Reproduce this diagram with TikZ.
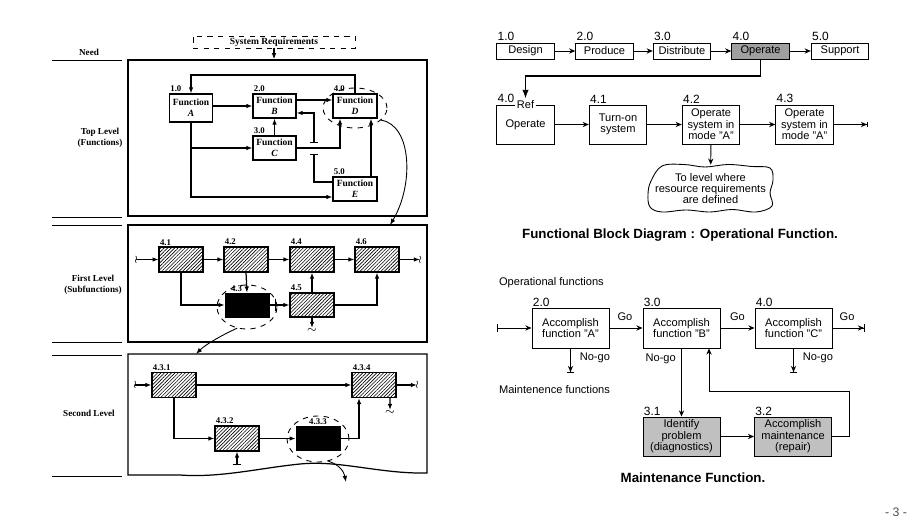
\documentclass[tikz,border=0pt]{standalone}
\usepackage{fontspec}
\setmainfont{Liberation Sans}
\newfontfamily\bookfont{Liberation Serif}
\usetikzlibrary{arrows.meta,shapes.geometric,patterns.meta}

\begin{document}
\begin{tikzpicture}[x=0.02cm, y=-0.02cm,
    sidelbl/.style={font=\bookfont\bfseries\fontsize{5.2}{6}\selectfont, align=center},
    funbox/.style={draw, fill=white, line width=0.6pt, inner sep=0pt, minimum width=0.86cm, minimum height=0.48cm, align=center, font=\bookfont\bfseries\fontsize{5.4}{6.2}\selectfont},
    hatchbox/.style={draw, line width=0.6pt, inner sep=0pt, minimum width=0.88cm, minimum height=0.5cm, pattern={Lines[angle=45,distance=1.4pt,line width=0.35pt]}},
    blackbox/.style={draw, fill=black, inner sep=0pt, minimum width=0.88cm, minimum height=0.48cm},
    lnum/.style={font=\bookfont\bfseries\fontsize{5}{5}\selectfont, inner sep=0.6pt, anchor=south west},
    larr/.style={-{Latex[length=3.5pt,width=2.6pt]}, line width=0.7pt},
    ring/.style={ellipse, draw, dashed, line width=0.5pt, inner sep=0pt},
    tilde/.style={inner sep=0pt, font=\fontsize{6}{6}\selectfont},
    rbox/.style={draw, fill=white, line width=0.55pt, inner sep=0pt, minimum width=1.15cm, minimum height=0.32cm, align=center, font=\fontsize{6.3}{6.5}\selectfont},
    rnum/.style={font=\fontsize{6.8}{7}\selectfont, inner sep=0.6pt, anchor=south west},
    rarr/.style={-{Stealth[length=3.5pt,width=3pt]}, line width=0.55pt},
    rtxt/.style={font=\fontsize{6.3}{6.5}\selectfont, inner sep=1pt},
    captxt/.style={font=\bfseries\fontsize{7.6}{8}\selectfont}
  ]
  \useasboundingbox (0,0) rectangle (915,520);
  \xdefinecolor{opgray}{RGB}{160,160,160}
  \xdefinecolor{mgray}{RGB}{192,192,192}

  % Draw the level rules and names on the left
  \foreach \y in {60,217,225,342,355,476}
    \draw[line width=0.5pt] (52,\y) -- (122,\y);
  \node[sidelbl] (need) at (89,52) {Need};
  \node[sidelbl] (topl) at (100,138) {Top Level\\(Functions)};
  \node[sidelbl] (firstl) at (93,285) {First Level\\(Subfunctions)};
  \node[sidelbl] (secondl) at (89,413) {Second Level};

  % System requirements and top level frame
  \node[draw, dashed, line width=0.5pt, minimum width=3.24cm, minimum height=0.24cm, inner sep=0pt, font=\bookfont\bfseries\fontsize{5.4}{6}\selectfont] (sysreq) at (274,42) {System Requirements};
  \node[draw, line width=0.7pt, minimum width=5.98cm, minimum height=3.12cm] (lvltop) at (277.5,138) {};
  \draw[larr] (sysreq.south) -- (sysreq.south |- lvltop.north);

  % Top level functions
  \node[ring, minimum width=1.28cm, minimum height=0.8cm] (ringD) at (355,108) {};
  \node[funbox, minimum height=0.56cm, label={[lnum]north west:1.0}] (fA) at (191,108) {Function\\{\itshape A}};
  \node[funbox, label={[lnum]north west:2.0}] (fB) at (274.5,106) {Function\\{\itshape B}};
  \node[funbox, label={[lnum]north west:3.0}] (fC) at (274.5,148) {Function\\{\itshape C}};
  \node[funbox, minimum width=0.88cm, label={[lnum]north west:4.0}] (fD) at (355,106) {Function\\{\itshape D}};
  \node[funbox, minimum width=0.88cm, label={[lnum]north west:5.0}] (fE) at (355,189) {Function\\{\itshape E}};

  \coordinate (topret) at (355,75);
  \draw[larr] (fD.north) -- (topret) -| (fA.north);
  \draw[larr] (fA.east |- fB.east) -- (fB.west);
  \draw[larr] ([yshift=0.12cm]fB.east) -- ([yshift=0.12cm]fD.west);
  \draw[larr] (fA.south) |- (fC.west);
  \draw[larr] (fA.south) |- ([yshift=-0.16cm]fE.west);
  \draw[larr] (fC.north) -- (fB.south);
  \draw[larr] (fC.east) -| ([xshift=-0.3cm]fD.south);
  \draw[larr] ([xshift=0.32cm]fE.north) -- ([xshift=0.32cm]fD.south);
  \coordinate (gapLo) at (314,154);
  \coordinate (gapHi) at (314,143);
  \draw[line width=0.7pt, -{Bar[width=4pt]}] ([yshift=0.14cm]fE.west) -| (gapLo);
  \draw[line width=0.7pt, {Bar[width=4pt]}-{Latex[length=3.5pt,width=2.6pt]}] (gapHi) |- ([yshift=-0.14cm]fB.east);

  % Expand function D to the first level
  \coordinate (inlvl1) at (390,225);
  \draw[line width=0.5pt, -{Latex[length=3.5pt,width=2.6pt]}] (ringD.-25) .. controls (412,125) and (414,185) .. (inlvl1);

  % First level frame and subfunctions
  \node[draw, line width=0.7pt, minimum width=5.98cm, minimum height=2.34cm] (lvlone) at (277.5,283.5) {};
  \node[ring, minimum width=1.2cm, minimum height=0.88cm] (ring43) at (247,307) {};
  \foreach \x/\n/\nm in {181/4.1/s41, 246/4.2/s42, 312/4.4/s44, 377/4.6/s46}
    \node[hatchbox, label={[lnum]north west:\n}] (\nm) at (\x,259.5) {};
  \node[blackbox, label={[lnum, xshift=0.1cm]north west:4.3}] (s43) at (247,305) {};
  \node[hatchbox, minimum height=0.48cm, label={[lnum]north west:4.5}] (s45) at (312,305) {};

  \coordinate (in1) at (136,259.5);
  \node[tilde] (w1) at (in1) {$\wr$};
  \draw[larr] (in1) -- (s41.west);
  \draw[larr] (s41) -- (s42);
  \draw[larr] (s42) -- (s44);
  \draw[larr] (s44) -- (s46);
  \coordinate (out1) at (420,259.5);
  \draw[larr] (s46) -- (out1);
  \node[tilde] (w2) at (out1) {$\wr$};
  \draw[larr] (s41.south) |- (s43.west);
  \draw[larr] (s42.south) -- (s43.north);
  \draw[larr] (s43) -- node[pos=0.28, draw, line width=0.4pt, inner sep=0pt, minimum width=0pt, minimum height=7pt] (tick43) {} (s45);
  \draw[larr] (s45) -- (s44);
  \draw[larr] (s45.east) -| (s46.south);
  \coordinate (dn45) at (312,328);
  \draw[larr] (s45.south) -- (dn45);
  \node[tilde, below] (w3) at (dn45) {$\sim$};

  % Expand subfunction 4.3 to the second level
  \coordinate (inlvl2) at (196,354);
  \draw[line width=0.5pt, -{Latex[length=3.5pt,width=2.6pt]}] (ring43.-115) .. controls (220,336) and (205,345) .. (inlvl2);

  % Second level frame with torn bottom
  \draw[line width=0.7pt] (128,354) -- (427,354) -- (427,473) .. controls (380,474) and (340,460) .. (300,464) .. controls (260,468) and (220,478) .. (180,475) -- (128,475) -- cycle;
  \node[ring, minimum width=1.24cm, minimum height=0.92cm] (ring433) at (318,439) {};
  \node[hatchbox, label={[lnum]north west:4.3.1}] (t431) at (174,385) {};
  \node[hatchbox, label={[lnum]north west:4.3.4}] (t434) at (374,385) {};
  \node[hatchbox, label={[lnum]north west:4.3.2}] (t432) at (237,438.5) {};
  \node[blackbox, label={[lnum, anchor=south]north:4.3.3}] (t433) at (318,438.5) {};

  \coordinate (in3) at (135,385);
  \node[tilde] (w4) at (in3) {$\wr$};
  \draw[larr] (in3) -- (t431.west);
  \draw[larr] (t431) -- (t434);
  \coordinate (out3) at (417,385);
  \draw[larr] (t434) -- (out3);
  \node[tilde] (w5) at (out3) {$\wr$};
  \coordinate (dn434) at (390,410);
  \draw[larr] ([xshift=0.32cm]t434.south) -- (dn434);
  \node[tilde, below] (w6) at (dn434) {$\sim$};
  \draw[larr] (t431.south) |- (t432.west);
  \draw[larr] (t432) -- (t433);
  \draw[larr] (t433.east) -| ([xshift=-0.3cm]t434.south);
  \coordinate (up432) at (237,465);
  \draw[line width=0.7pt, {Bar[width=4pt]}-{Latex[length=3.5pt,width=2.6pt]}] (up432) -- (t432.south);
  \coordinate (out433) at (346,482);
  \draw[line width=0.5pt, -{Latex[length=3.5pt,width=2.6pt]}] (ring433.-65) .. controls (340,465) and (344,472) .. (out433);

  % Operational function blocks
  \foreach \x/\n/\txt/\col [count=\i] in {525.5/1.0/Design/white, 604.5/2.0/Produce/white, 682/3.0/Distribute/white, 760.5/4.0/Operate/opgray, 840/5.0/Support/white}
    \node[rbox, fill=\col, label={[rnum]north west:\n}] (top\i) at (\x,51) {\txt};
  \foreach \i [evaluate=\i as \j using int(\i+1)] in {1,...,4}
    \draw[rarr] (top\i) -- (top\j);

  \foreach \x/\n/\txt/\nm in {525.5/4.0/Operate/op40, 618/4.1/Turn-on\\system/op41, 711/4.2/Operate\\system in\\mode "A"/op42, 804.5/4.3/Operate\\system in\\mode "A"/op43}
    \node[rbox, minimum height=0.78cm, label={[rnum]north west:\n}] (\nm) at (\x,124.5) {\txt};
  \node[rtxt, fill=white, inner sep=0.8pt] (ref) at (op40.north) {Ref};
  \coordinate (opdrop) at (525.5,76);
  \draw[line width=0.9pt, -{Latex[length=5pt,width=3.6pt]}] (top4.south) |- (opdrop) -- (ref.north);
  \draw[rarr] (op40) -- (op41);
  \draw[rarr] (op41) -- (op42);
  \draw[rarr] (op42) -- (op43);
  \coordinate (out2) at (868,124.5);
  \draw[line width=0.55pt, -{Stealth[length=3.5pt,width=3pt]Bar[width=3pt]}] (op43) -- (out2);

  % Wavy note under 4.2
  \draw[line width=0.5pt] plot[smooth cycle, tension=0.6] coordinates {(662,166) (684,164.5) (705,167) (728,164.5) (752,166.5) (770,168) (773,180) (770,193) (772,206) (756,212) (732,209.5) (710,212) (686,210) (662,212) (650,207) (648,194) (651,181)};
  \node[minimum width=2.5cm, minimum height=0.94cm, inner sep=0pt, align=center, font=\fontsize{6.3}{6.5}\selectfont] (cloud) at (710.5,188.5) {To level where\\resource requirements\\are defined};
  \draw[rarr] (op42) -- (cloud);
  \node[captxt] (capa) at (680,235) {Functional Block Diagram : Operational Function.};

  % Maintenance function blocks
  \node[rtxt, anchor=west] (opfun) at (497,283) {Operational functions};
  \foreach \x/\n/\txt/\nm in {570.5/2.0/Accomplish\\function "A"/ma, 681.5/3.0/Accomplish\\function "B"/mb, 793.5/4.0/Accomplish\\function "C"/mc}
    \node[rbox, minimum width=1.54cm, minimum height=0.8cm, label={[rnum]north west:\n}] (\nm) at (\x,328) {\txt};
  \coordinate (in5) at (497,328);
  \draw[line width=0.55pt, {Bar[width=4pt]}-{Stealth[length=3.5pt,width=3pt]}] (in5) -- (ma);
  \draw[rarr] (ma) -- node[rtxt, pos=0.47, above=3pt] (go1) {Go} (mb);
  \draw[rarr] (mb) -- node[rtxt, pos=0.5, above=3pt] (go2) {Go} (mc);
  \coordinate (out5) at (865,328);
  \draw[line width=0.55pt, -{Stealth[length=3.5pt,width=3pt]Bar[width=4pt]}] (mc) -- node[rtxt, pos=0.45, above=3pt] (go3) {Go} (out5);

  \coordinate (nga) at (570.5,373);
  \coordinate (ngc) at (793.5,373);
  \draw[line width=0.55pt, -{Stealth[length=3.5pt,width=3pt]Bar[width=4pt]}] (ma) -- node[rtxt, pos=0.4, right=4pt] (ng1) {No-go} (nga);
  \draw[line width=0.55pt, -{Stealth[length=3.5pt,width=3pt]Bar[width=4pt]}] (mc) -- node[rtxt, pos=0.4, right=4pt] (ng3) {No-go} (ngc);

  \node[rtxt, anchor=west] (mtfun) at (497,390) {Maintenence functions};
  \node[rbox, fill=mgray, minimum width=1.54cm, minimum height=0.78cm, label={[rnum]north west:3.1}] (d31) at (681.5,436.5) {Identify\\problem\\(diagnostics)};
  \node[rbox, fill=mgray, minimum width=1.54cm, minimum height=0.78cm, label={[rnum]north west:3.2}] (d32) at (793,436.5) {Accomplish\\maintenance\\(repair)};
  \draw[rarr] (mb) -- node[rtxt, pos=0.15, left=2pt] (ng2) {No-go} (d31);
  \draw[rarr] (d31) -- (d32);
  \coordinate (fbk) at (849,391);
  \draw[rarr] (d32.east) -| (fbk) -| ([xshift=0.55cm]mb.south);
  \node[captxt] (capb) at (693,478) {Maintenance Function.};

  \node[font=\fontsize{7}{7}\selectfont, text=black!70] (pageno) at (896,512) {- 3 -};
\end{tikzpicture}
\end{document}
